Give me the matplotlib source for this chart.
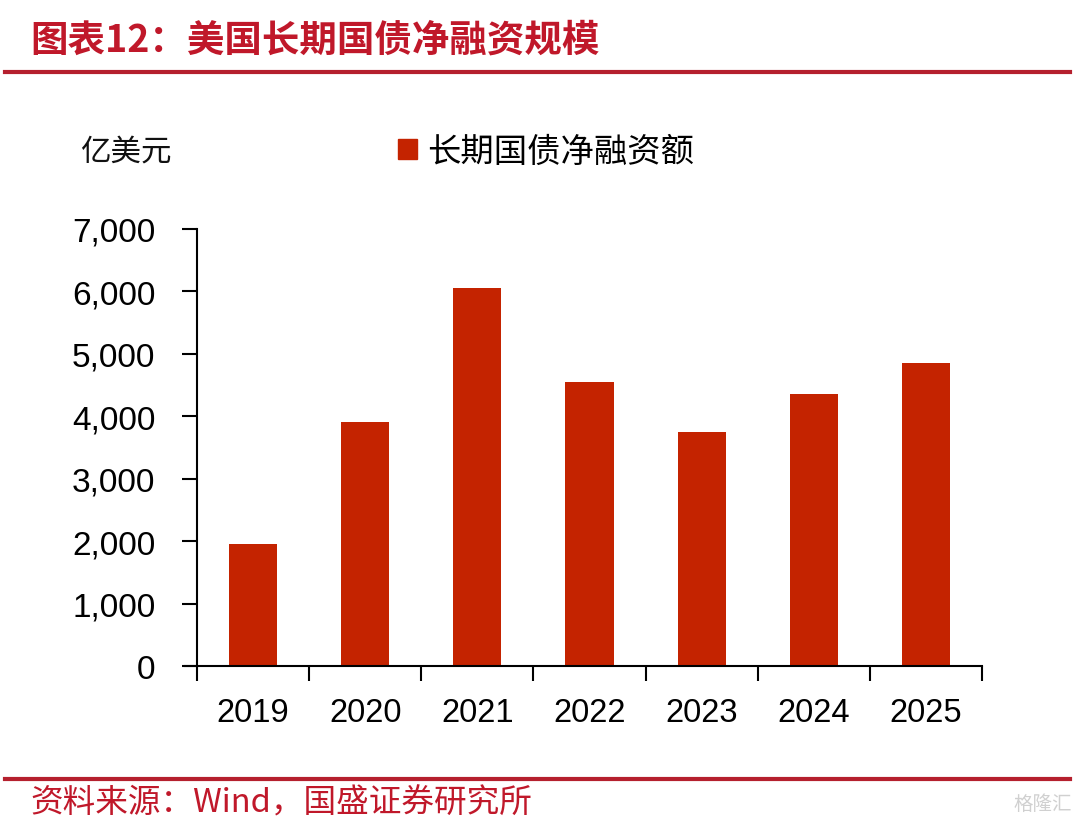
import matplotlib
matplotlib.use("Agg")
import matplotlib.pyplot as plt
from matplotlib.lines import Line2D
from matplotlib.patches import Patch

plt.rcParams['font.family'] = ['Noto Sans CJK SC', 'DejaVu Sans']

years = ["2019", "2020", "2021", "2022", "2023", "2024", "2025"]
net_financing = [1950, 3910, 6050, 4550, 3750, 4360, 4850]
series_name = "长期国债净融资额"
unit_label = "亿美元"
title_text = "图表12：美国长期国债净融资规模"
source_text = "资料来源：Wind，国盛证券研究所"
yticks = [0, 1000, 2000, 3000, 4000, 5000, 6000, 7000]

bar_color = "#C42300"
red = "#C0182A"

fig = plt.figure(figsize=(10.8, 8.28), dpi=100)
ax = fig.add_axes([197/1080, 1-667/828, (982-197)/1080, (667-230)/828])

x = list(range(len(years)))
ax.bar(x, net_financing, width=0.43, color=bar_color, zorder=2)
ax.set_xlim(-0.5, len(years)-0.5)
ax.set_ylim(0, 7000)
ax.set_yticks(yticks)
ax.set_yticklabels([f"{v:,}" for v in yticks], fontsize=24, family='Liberation Sans')
ax.set_xticks(x)
ax.set_xticklabels(years, fontsize=23.5, family='Liberation Sans')
ax.tick_params(axis='x', length=0, pad=22)
ax.tick_params(axis='y', length=11, width=1.5, direction='out', pad=19)
# minor ticks between categories
ax.set_xticks([i-0.5 for i in range(len(years)+1)], minor=True)
ax.tick_params(axis='x', which='minor', length=11, width=1.5, direction='out')
for s in ['top', 'right']:
    ax.spines[s].set_visible(False)
ax.spines['left'].set_linewidth(1.5)
ax.spines['bottom'].set_linewidth(1.5)
ax.spines['bottom'].set_bounds(-0.5 - 12/112, len(years)-0.5)

# unit label
fig.text(80/1080, 1-152/828, unit_label, fontsize=22, va='center', ha='left', color='#111111')

# legend
leg = fig.legend(handles=[Patch(color=bar_color, label=series_name)],
                 loc='center left', bbox_to_anchor=(385/1080, 1-152/828),
                 frameon=False, fontsize=24, handlelength=0.55, handleheight=0.55,
                 handletextpad=0.3, borderaxespad=0)

# title
fig.text(30/1080, 1-40/828, title_text, fontsize=27, color=red, va='center', ha='left',
         fontweight='bold', style='italic')
fig.add_artist(Line2D([5/1080, 1070/1080], [1-73/828, 1-73/828], color="#B5202E", lw=3))

# footer
fig.add_artist(Line2D([5/1080, 1070/1080], [1-780/828, 1-780/828], color="#B5202E", lw=3))
fig.text(30/1080, 1-804/828, source_text, fontsize=23.5, color=red, va='center', ha='left',
         style='italic')
fig.text(1072/1080, 1-804/828, "格隆汇", fontsize=14, color='#D0D0D0', va='center', ha='right')

fig.savefig("out.png", dpi=100)
